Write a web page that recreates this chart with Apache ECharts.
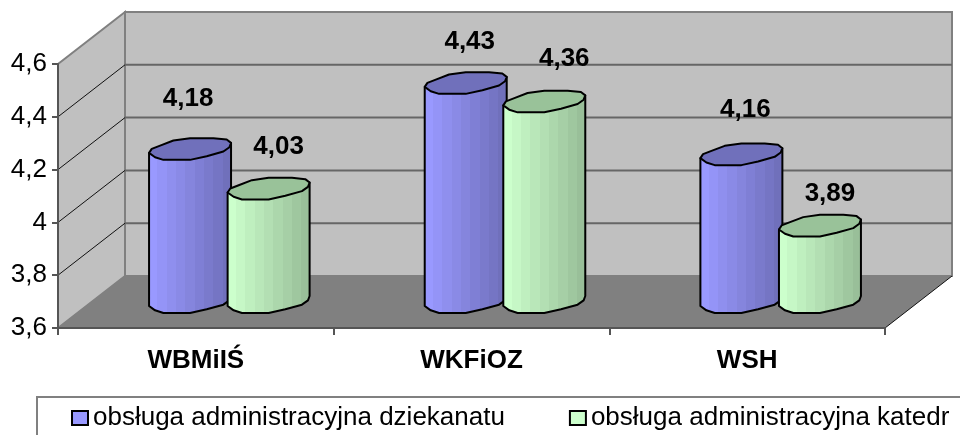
<!DOCTYPE html>
<html><head><meta charset="utf-8">
<style>html,body{margin:0;padding:0;background:#fff}#c{width:960px;height:435px}</style>
<script src="https://cdn.jsdelivr.net/npm/echarts@6/dist/echarts.min.js"></script>
</head><body><div id="c"></div>
<script>
const categories = ['WBMiIŚ', 'WKFiOZ', 'WSH'];
const seriesNames = ['obsługa administracyjna dziekanatu', 'obsługa administracyjna katedr'];
const dziekanat = [4.18, 4.43, 4.16];
const katedr = [4.03, 4.36, 3.89];
const yTicks = [3.6, 3.8, 4.0, 4.2, 4.4, 4.6];

const FONT = '"Liberation Sans", Arial, sans-serif';
const DEPTH = [67, -52];         // 3D projection vector of the full chart depth
const BAR_OFF = 0.1425, BAR_R = 0.1487; // in category widths
const LABEL_NUDGE = [
  [[-2, -50], [4, -41], [4, -44]],
  [[10, -42], [20, -43], [10, -32]]
];
const OUTLINE = [[-1,.098],[-.935,0],[-.73,-.08],[-.407,-.203],[0,-.26],[.57,-.26],[.894,-.228],[1,-.146],
                 [.96,-.04],[.813,.065],[.407,.179],[0,.268],[-.65,.268],[-.854,.203]];
const LOWER = [[-1,.098],[-.854,.203],[-.65,.268],[0,.268],[.407,.179],[.813,.065],[.96,-.04],[1,-.146]];

function mix(a, b, t) {
  const p = c => [1,3,5].map(i => parseInt(c.substr(i,2),16));
  const A = p(a), B = p(b);
  return 'rgb(' + A.map((v,i) => Math.round(v + (B[i]-v)*t)).join(',') + ')';
}
function bands(a, b, n) {
  const stops = [];
  for (let i = 0; i < n; i++) {
    const col = mix(a, b, i/(n-1));
    stops.push({offset: i/n, color: col}, {offset: (i+1)/n, color: col});
  }
  return {type:'linear', x:0, y:0, x2:1, y2:0, colorStops: stops};
}

function renderWalls(params, api) {
  const x0 = params.coordSys.x, x1 = x0 + params.coordSys.width;
  const yAt = v => api.coord([0, v])[1];
  const low = yAt(yTicks[0]), high = yAt(yTicks[yTicks.length-1]);
  const d = (x, y) => [x + DEPTH[0], y + DEPTH[1]];
  const children = [
    {type:'polygon', shape:{points:[d(x0,high), d(x1,high), d(x1,low), d(x0,low)]},
     style:{fill:'#C0C0C0', stroke:'#808080', lineWidth:2}},
    {type:'polygon', shape:{points:[[x0,high], d(x0,high), d(x0,low), [x0,low]]},
     style:{fill:'#C0C0C0', stroke:'#808080', lineWidth:2}},
    {type:'polygon', shape:{points:[[x0,low], [x1,low], d(x1,low), d(x0,low)]},
     style:{fill:'#808080', stroke:'none'}},
    {type:'line', shape:{x1:x1,y1:low,x2:x1+DEPTH[0],y2:low+DEPTH[1]}, style:{stroke:'#111',lineWidth:1}}
  ];
  yTicks.slice(1, -1).forEach(v => {
    const y = yAt(v), e = d(x0, y), f = d(x1, y);
    children.push({type:'line', shape:{x1:x0,y1:y,x2:e[0],y2:e[1]}, style:{stroke:'#111',lineWidth:1}});
    children.push({type:'line', shape:{x1:e[0],y1:e[1],x2:f[0],y2:f[1]}, style:{stroke:'#666',lineWidth:2}});
  });
  yTicks.slice(-1).forEach(v => {
    const y = yAt(v), f = d(x1, y);
    children.push({type:'line', shape:{x1:x0+DEPTH[0],y1:y+DEPTH[1],x2:f[0],y2:f[1]}, style:{stroke:'#808080',lineWidth:2}});
  });
  return {type:'group', children};
}

function makeCylinder(seriesIdx, side, topFill, c1, c2) {
  return function (params, api) {
    const cat = api.value(0), val = api.value(1);
    const unit = api.size([1, 0])[0];
    const r = unit * BAR_R;
    const top = api.coord([cat, val]), base = api.coord([cat, yTicks[0]]);
    const cx = top[0] + side * unit * BAR_OFF + DEPTH[0] / 2;
    const ty = top[1] + DEPTH[1] / 2, by = base[1] + DEPTH[1] / 2;
    const P = (p, y) => [cx + p[0]*r, y + p[1]*r];
    const sidePts = [P(LOWER[0], ty)].concat(LOWER.map(p => P(p, by)), [P(LOWER[LOWER.length-1], ty)]);
    const nudge = LABEL_NUDGE[seriesIdx][params.dataIndex];
    const label = String(val).replace('.', ',');
    return {type:'group', children:[
      {type:'polygon', shape:{points:sidePts},
       style:{fill:bands(c1, c2, 9), stroke:'#000', lineWidth:2, lineJoin:'round'}},
      {type:'polygon', shape:{points:OUTLINE.map(p => P(p, ty))},
       style:{fill:topFill, stroke:'#000', lineWidth:2, lineJoin:'round'}},
      {type:'text', z2:50, style:{x:cx+nudge[0], y:ty+nudge[1], text:label, align:'center', verticalAlign:'middle',
        font:'bold 26px ' + FONT, fill:'#000'}}
    ]};
  };
}

const chart = echarts.init(document.getElementById('c'), null, {renderer:'canvas'});
chart.setOption({
  animation:false,
  backgroundColor:'#fff',
  grid:{left:58, right:75, top:64, bottom:107},
  xAxis:{type:'category', data:categories, boundaryGap:true, z:5,
    axisLine:{lineStyle:{color:'#555', width:2}},
    axisTick:{show:true, alignWithLabel:false, length:7, lineStyle:{color:'#555', width:2}},
    axisLabel:{fontFamily:FONT, fontWeight:'bold', fontSize:26, color:'#000', margin:20}},
  yAxis:{type:'value', min:3.6, max:4.6, interval:0.2, z:5,
    axisLine:{show:true, lineStyle:{color:'#555', width:2}},
    axisTick:{show:true, length:6, lineStyle:{color:'#555', width:2}},
    splitLine:{show:false},
    axisLabel:{fontFamily:FONT, fontSize:26, color:'#000', margin:11,
      formatter:v => String(Math.round(v*10)/10).replace('.', ',')}},
  legend:{show:true, data:seriesNames, left:37, top:397, orient:'horizontal', icon:'rect', width:1300,
    padding:[8, 200, 200, 34], itemGap:64, itemWidth:16, itemHeight:14,
    borderColor:'#808080', borderWidth:2, backgroundColor:'#fff',
    textStyle:{fontFamily:FONT, fontSize:26, color:'#000'},
    selectedMode:false},
  series:[
    {type:'custom', silent:true, z:1, data:[[0, yTicks[0]]], renderItem:renderWalls, encode:{x:0,y:1}, tooltip:{show:false}},
    {type:'custom', name:seriesNames[0], z:2, clip:false,
     itemStyle:{color:'#9999FF', borderColor:'#000', borderWidth:2},
     data:categories.map((c,i)=>[i, dziekanat[i]]), encode:{x:0,y:1},
     renderItem:makeCylinder(0, -1, '#7070BB', '#9999FF', '#7070BB')},
    {type:'custom', name:seriesNames[1], z:3, clip:false,
     itemStyle:{color:'#CCFFCC', borderColor:'#000', borderWidth:2},
     data:categories.map((c,i)=>[i, katedr[i]]), encode:{x:0,y:1},
     renderItem:makeCylinder(1, 1, '#99C299', '#CCFFCC', '#99BF99')}
  ]
});
</script></body></html>
